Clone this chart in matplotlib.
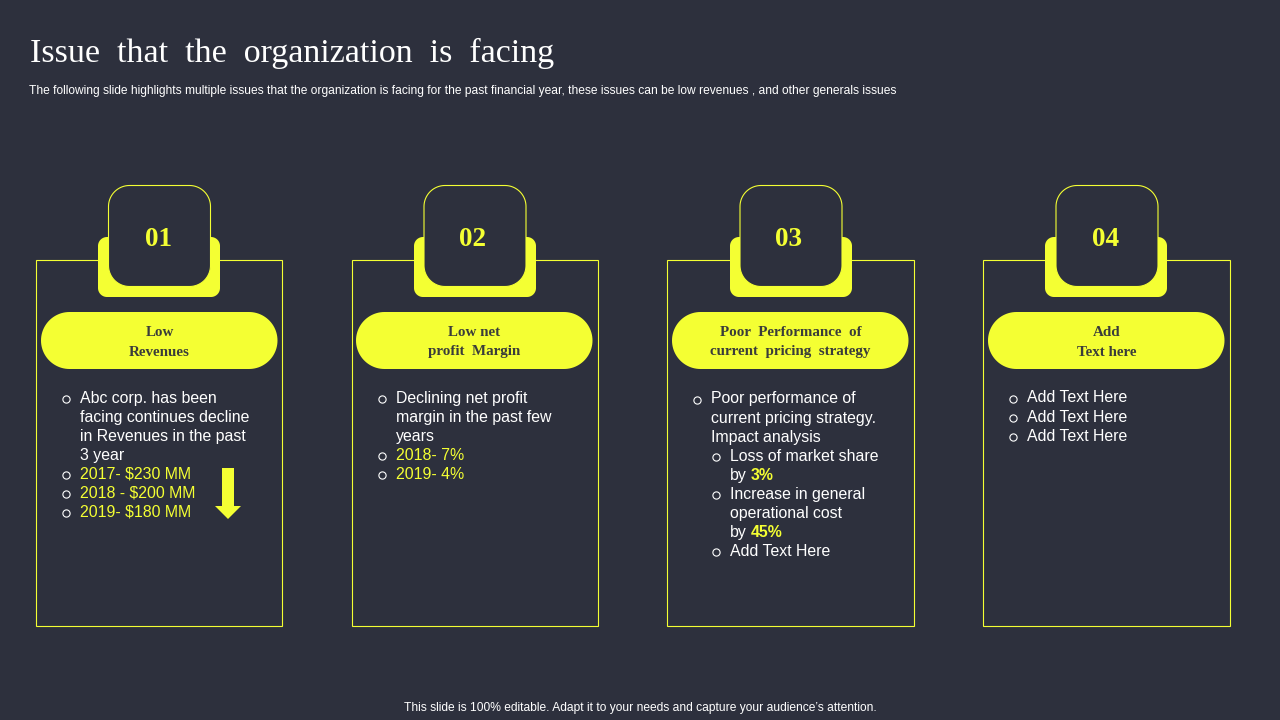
import matplotlib
matplotlib.use("Agg")
import matplotlib.pyplot as plt
import numpy as np
from matplotlib.patches import Rectangle, Polygon

BG = "#2D303D"
YEL = "#F4FF33"
DARK = "#3A3C3A"
WHITE = "#FFFFFF"

title = "Issue  that  the  organization  is  facing"
subtitle = ("The following slide highlights multiple issues that the organization is facing for the "
            "past financial year, these issues can be low revenues , and other generals issues")
footer = "This slide is 100% editable. Adapt it to your needs and capture your audience\u2019s attention."
numbers = ["01", "02", "03", "04"]
headers = [["Low", "Revenues"], ["Low net", "profit  Margin"],
           ["Poor  Performance  of", "current  pricing  strategy"], ["Add", "Text here"]]

card1 = [("Abc corp. has been", "w", True, 0), ("facing continues decline", "w", False, 0),
         ("in Revenues in the past", "w", False, 0), ("3 year", "w", False, 0),
         ("2017- $230 MM", "y", True, 0), ("2018 - $200 MM", "y", True, 0), ("2019- $180 MM", "y", True, 0)]
card2 = [("Declining net profit", "w", True, 0), ("margin in the past few", "w", False, 0),
         ("years", "w", False, 0), ("2018- 7%", "y", True, 0), ("2019- 4%", "y", True, 0)]
card3 = [("Poor performance of", "w", True, 0), ("current pricing strategy.", "w", False, 0),
         ("Impact analysis", "w", False, 0), ("Loss of market share", "w", True, 1),
         ("by |3%", "w", False, 1), ("Increase in general", "w", True, 1),
         ("operational cost", "w", False, 1), ("by |45%", "w", False, 1), ("Add Text Here", "w", True, 1)]
card4 = [("Add Text Here", "w", True, 0), ("Add Text Here", "w", True, 0), ("Add Text Here", "w", True, 0)]
cards = [card1, card2, card3, card4]

card_left = [36, 352, 667, 983]
card_width = [246, 246, 247, 247]
tab_center = [159, 475, 791, 1106]
box_center = [159.5, 475, 791, 1107]
num_center = [158.5, 473, 789, 1105.5]
pill_left = [41, 356, 672, 988]
text_x = [80, 396, 711, 1027]
text_y0 = [398, 398, 399, 398]
line_h = 19.05

fig = plt.figure(figsize=(12.8, 7.2), dpi=100, facecolor=BG)
ax = fig.add_axes([0, 0, 1, 1])
ax.set_xlim(0, 1280)
ax.set_ylim(720, 0)
ax.axis("off")
SANS = "Liberation Sans"
SERIF = "Liberation Serif"


def rrect(x, y, w, h, r, **kw):
    t = np.linspace(0, np.pi / 2, 24)
    xs, ys = [], []
    for cx, cy, a in [(x + w - r, y + r, -np.pi / 2), (x + w - r, y + h - r, 0),
                      (x + r, y + h - r, np.pi / 2), (x + r, y + r, np.pi)]:
        xs.extend(cx + r * np.cos(t + a))
        ys.extend(cy + r * np.sin(t + a))
    ax.add_patch(Polygon(np.column_stack([xs, ys]), closed=True, **kw))


ax.text(30, 53.5, title, fontfamily=SERIF, fontsize=24.5, color=WHITE, va="center", ha="left")
ax.text(29, 91, subtitle, fontfamily=SANS, fontsize=8.64, color=WHITE, va="center", ha="left")
ax.text(640, 707.5, footer, fontfamily=SANS, fontsize=8.67, color=WHITE, va="center", ha="center")

for i, left in enumerate(card_left):
    ax.add_patch(Rectangle((left, 260), card_width[i], 366, fill=False, ec=YEL, lw=0.8, zorder=1))
    rrect(tab_center[i] - 61, 237, 122, 60, 9, fc=YEL, ec="none", zorder=2)
    rrect(box_center[i] - 51, 185.5, 102, 101, 21, fc=BG, ec=YEL, lw=0.8, zorder=3)
    ax.text(num_center[i], 240, numbers[i], fontfamily=SERIF, fontweight="bold", fontsize=19.5,
            color=YEL, ha="center", va="center", zorder=4)
    rrect(pill_left[i], 312, 236.5, 57, 28.5, fc=YEL, ec="none", zorder=2)
    for j, s in enumerate(headers[i]):
        ax.text(pill_left[i] + 118.5, 332 + 20 * j, s, fontfamily=SERIF, fontweight="bold", fontsize=10.8,
                color=DARK, ha="center", va="center", zorder=4)
    for k, (s, col, bullet, lvl) in enumerate(cards[i]):
        y = text_y0[i] + k * line_h
        x = text_x[i] + lvl * 19
        color = YEL if col == "y" else WHITE
        if bullet:
            ax.plot([x - 14], [y + 0.5], marker="o", ms=5.2, mfc="none", mec=WHITE, mew=0.8, zorder=4)
        if "|" in s:
            a, b = s.split("|")
            t = ax.text(x, y, a.strip(), fontfamily=SANS, fontsize=11.4, color=color, va="center", zorder=4)
            fig.canvas.draw()
            bb = t.get_window_extent()
            ax.text(bb.x1 + 4, y, b, fontfamily=SANS, fontsize=11.4, fontweight="bold", color=YEL,
                    va="center", zorder=4)
        else:
            ax.text(x, y, s, fontfamily=SANS, fontsize=11.4, color=color, va="center", zorder=4)

ax.add_patch(Polygon([(222, 468), (234, 468), (234, 506), (241, 506), (228, 519), (215, 506), (222, 506)],
                     closed=True, fc=YEL, ec="none", zorder=4))

fig.savefig("out.png", dpi=100, facecolor=BG)
